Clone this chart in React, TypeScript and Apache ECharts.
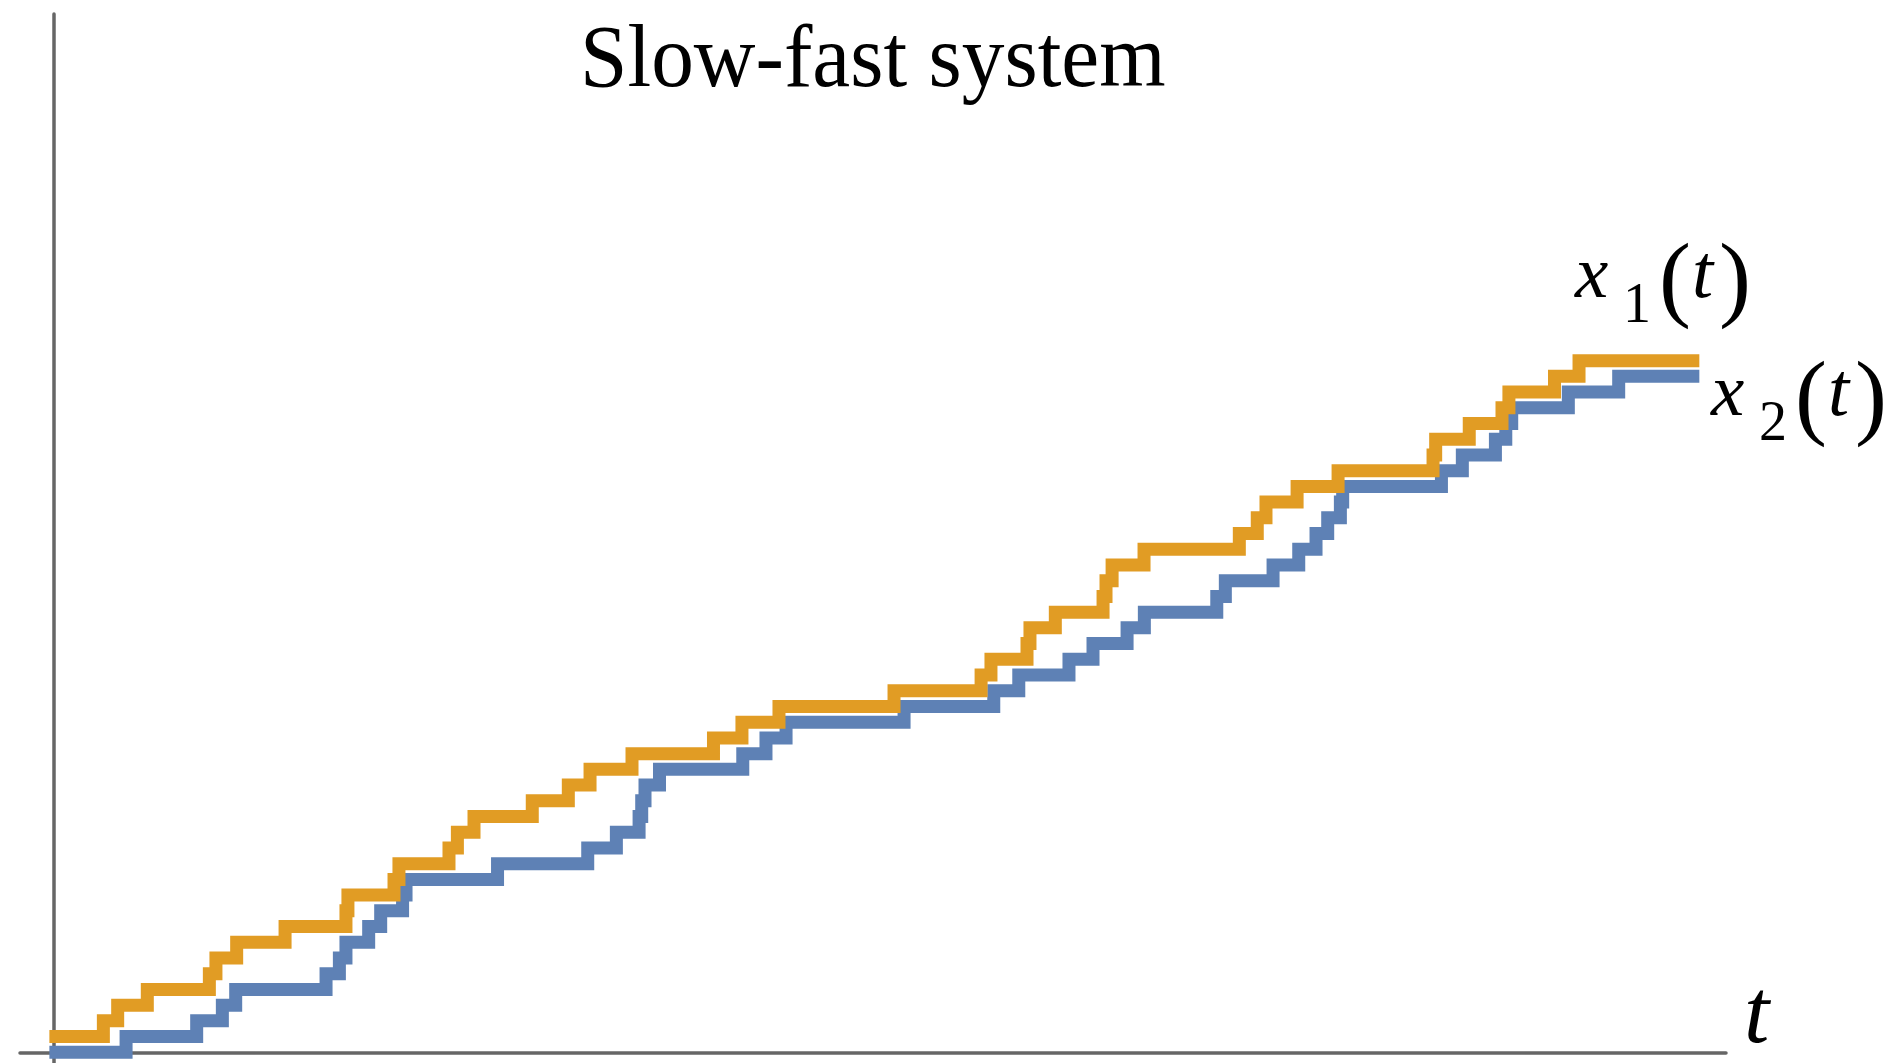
import React, { useEffect, useRef } from "react";
import * as echarts from "echarts";

// ---- data (time t, count level) ----
const tStart = -0.25;
const tEnd = 100;
const x1StartLevel = 1;
const x2StartLevel = 0;
// times at which x1(t) jumps up by one
const x1Jumps = [
  3.03, 3.9, 5.7, 9.47, 9.87, 11.13, 14.07, 17.77, 17.89, 20.69, 20.99, 24.03,
  24.54, 25.55, 29.09, 31.28, 32.6, 35.15, 40.1, 41.83, 44.08, 51.07, 56.36,
  56.96, 59.15, 59.33, 60.87, 63.77, 63.95, 64.32, 66.26, 72.05, 73.14, 73.67,
  75.56, 78.05, 83.82, 83.98, 86.02, 88.01, 88.43, 91.2, 92.69,
];
// times at which x2(t) jumps up by one
const x2Jumps = [
  4.41, 8.7, 10.26, 11.07, 16.56, 17.37, 17.77, 19.15, 19.88, 21.21, 21.42,
  26.98, 32.46, 34.2, 35.58, 35.74, 35.94, 36.82, 41.88, 43.29, 44.51, 51.68,
  57.13, 58.65, 61.7, 63.16, 65.23, 66.28, 70.68, 71.2, 74.1, 75.66, 76.71,
  77.42, 78.19, 78.33, 84.33, 85.6, 87.61, 88.24, 88.6, 92.04, 95.1,
];
const titleText = "Slow-fast system";
const axisLabelT = "t";

const ORANGE = "#E19C24";
const BLUE = "#5E81B5";
const AXIS = "#666666";
const SERIF = '"Liberation Serif", "Times New Roman", serif';
const CENTRAL = 0.3375; // central-baseline offset of the serif font

function stepPoints(startLevel: number, jumps: number[]) {
  const pts: number[][] = [[tStart, startLevel]];
  jumps.forEach((t, i) => pts.push([t, startLevel + i + 1]));
  pts.push([tEnd, startLevel + jumps.length]);
  return pts;
}

function txt(
  text: string,
  x: number,
  baseline: number,
  size: number,
  italic: boolean,
  extra: any = {}
) {
  return {
    type: "text",
    x,
    y: baseline - CENTRAL * size,
    ...extra,
    style: {
      text,
      x: 0,
      y: 0,
      fill: "#000",
      fontFamily: SERIF,
      fontSize: size,
      fontStyle: italic ? "italic" : "normal",
      align: "left",
      textAlign: "left",
      verticalAlign: "middle",
      textVerticalAlign: "middle",
    },
  };
}

function mathLabel(sub: string, x0: number, baseline: number) {
  return [
    txt("x", x0 - 2, baseline, 75, true),
    txt(sub, x0 + 46, baseline + 25, 56, false),
    txt("(", x0 + 82, baseline + 12, 96, false),
    txt("t", x0 + 115, baseline, 76, true),
    txt(")", x0 + 142, baseline + 12, 96, false),
  ];
}

export default function App() {
  const ref = useRef<HTMLDivElement>(null);
  useEffect(() => {
    if (!ref.current) return;
    const chart = echarts.init(ref.current, undefined, { renderer: "svg" });
    const axisCommon = {
      type: "value",
      z: 3,
      axisLine: {
        show: true,
        onZero: true,
        lineStyle: { color: AXIS, width: 3.5 },
      },
      axisTick: { show: false },
      axisLabel: { show: false },
      splitLine: { show: false },
    };
    chart.setOption({
      animation: false,
      backgroundColor: "#ffffff",
      grid: { left: 20, top: 14, width: 1706, height: 1049, containLabel: false },
      xAxis: { ...axisCommon, min: -2.035, max: 101.62 },
      yAxis: { ...axisCommon, min: -0.68, max: 66.05 },
      series: [
        {
          name: "x2(t)",
          type: "line",
          step: "end",
          data: stepPoints(x2StartLevel, x2Jumps),
          showSymbol: false,
          symbol: "none",
          lineStyle: { color: BLUE, width: 13, join: "miter", cap: "butt" },
          emphasis: { disabled: true },
        },
        {
          name: "x1(t)",
          type: "line",
          step: "end",
          data: stepPoints(x1StartLevel, x1Jumps),
          showSymbol: false,
          symbol: "none",
          lineStyle: { color: ORANGE, width: 13, join: "miter", cap: "butt" },
          emphasis: { disabled: true },
        },
      ],
      graphic: [
        txt(titleText, 580, 86, 88, false, { scaleX: 0.97 }),
        ...mathLabel("1", 1577, 297),
        ...mathLabel("2", 1713, 415),
        txt(axisLabelT, 1744, 1042, 91, true),
      ],
    });
    return () => chart.dispose();
  }, []);
  return (
    <div
      ref={ref}
      style={{ position: "absolute", left: 0, top: 0, width: 1895, height: 1063 }}
    />
  );
}
